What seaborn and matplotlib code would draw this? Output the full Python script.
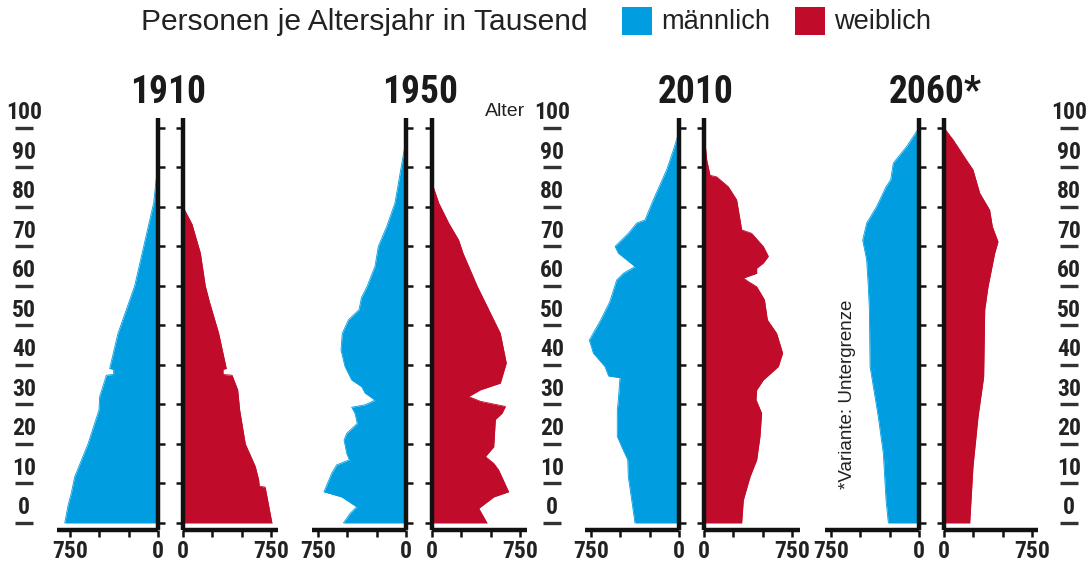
import matplotlib
matplotlib.use("Agg")
import matplotlib.pyplot as plt
from matplotlib.patches import Rectangle
from matplotlib import font_manager
import seaborn as sns
import pandas as pd

# ---------------- data (thousand persons per age year) ----------------
years = ["1910", "1950", "2010", "2060*"]

age_m_1910 = [0, 4.4, 7.6, 11.7, 20, 28.6, 32, 37.4, 37.6, 38.9, 39.1, 48, 54, 60, 70, 81, 88, 95]
val_m_1910 = [795, 767, 739, 710, 597, 503, 497, 440, 378, 378, 412, 341, 270, 199, 122, 37, 12, 0]
age_f_1910 = [0, 4.4, 9.1, 9.3, 10.9, 14.3, 20, 28.6, 33.7, 37.4, 37.6, 38.9, 39.1, 48, 56, 60, 68.3, 75.6, 80]
val_f_1910 = [758, 730, 700, 650, 645, 616, 531, 483, 466, 418, 341, 341, 369, 304, 225, 190, 148, 77, 0]

age_m_1950 = [0, 2.4, 4.1, 6.6, 7.9, 12.6, 14.7, 16.0, 17.6, 21, 22.7, 25.2, 27.8, 29.3, 29.9, 31.1,
              32.9, 34.5, 36.2, 39.6, 43.8, 48, 51.4, 54, 57, 60, 65, 70, 75, 81, 89.4, 97]
val_m_1950 = [534, 477, 420, 548, 699, 633, 591, 483, 505, 528, 505, 415, 435, 463, 349, 264,
              349, 378, 463, 520, 554, 543, 491, 400, 380, 330, 264, 236, 165, 94, 45, 0]
age_f_1950 = [0, 3.7, 6.6, 7.9, 13.4, 15.1, 16.8, 19.3, 26.2, 27.8, 29.5, 30.8, 32, 33.7, 35.4,
              40.5, 48, 54, 60, 68.3, 71.6, 75.9, 81, 86]
val_f_1950 = [469, 398, 526, 653, 568, 526, 455, 526, 540, 597, 625, 412, 312, 412, 582,
              633, 582, 483, 384, 264, 227, 142, 57, 0]

age_m_2010 = [0, 5.8, 11.7, 16, 19.3, 21.9, 28.6, 31.2, 36.8, 37.2, 39.6, 43, 46.3, 51.4, 56,
              61.5, 63.2, 64.9, 66.6, 68.3, 70, 73.3, 75.9, 76.7, 81.8, 89.4, 94.4, 99]
val_m_2010 = [375, 403, 432, 437, 488, 526, 526, 517, 503, 600, 631, 730, 764, 667, 590,
              531, 474, 375, 446, 517, 545, 432, 361, 290, 219, 105, 48, 0]
age_f_2010 = [0, 5.8, 11.7, 16, 21.9, 27.8, 31.2, 33.7, 36.2, 39.6, 43, 48, 51.4, 56.5, 59.8,
              61.1, 62.0, 63.2, 64.5, 65.8, 67.5, 70, 73.3, 74.2, 76.7, 81.8, 85.1, 87.6, 88, 91.9, 99]
val_f_2010 = [321, 335, 392, 449, 477, 491, 443, 449, 505, 633, 670, 619, 540, 515, 449,
              378, 335, 449, 449, 505, 548, 505, 406, 321, 307, 278, 207, 108, 51, 23, 0]

age_m_2060 = [0, 5.8, 17.6, 26.9, 39.6, 54, 59.8, 66.6, 71.6, 75.9, 80.1, 85.1, 86.9, 91.1, 95.3, 100]
val_m_2060 = [261, 281, 304, 347, 417, 423, 432, 446, 480, 446, 361, 281, 241, 219, 105, 0]
age_f_2060 = [0, 14.3, 26.9, 37, 54, 59.8, 68.3, 71.2, 75, 79.2, 83.5, 89.4, 91.9, 97, 100]
val_f_2060 = [219, 247, 290, 338, 347, 375, 432, 460, 412, 389, 304, 247, 190, 77, 0]

age_ticks = [0, 10, 20, 30, 40, 50, 60, 70, 80, 90, 100]
x_ticks = [0, 250, 500, 750]
x_ticklabels = ["0", "", "", "750"]

header = "Personen je Altersjahr in Tausend"
legend_labels = ["männlich", "weiblich"]
alter_label = "Alter"
note = "*Variante: Untergrenze"

male = {"1910": (age_m_1910, val_m_1910), "1950": (age_m_1950, val_m_1950),
        "2010": (age_m_2010, val_m_2010), "2060*": (age_m_2060, val_m_2060)}
female = {"1910": (age_f_1910, val_f_1910), "1950": (age_f_1950, val_f_1950),
          "2010": (age_f_2010, val_f_2010), "2060*": (age_f_2060, val_f_2060)}

# ---------------- style ----------------
sns.set_theme(style="white")
REG = ["Liberation Sans", "DejaVu Sans"]
plt.rcParams["font.family"] = REG

# pick a condensed bold face if one is installed
_fonts = font_manager.fontManager.ttflist
_names = {f.name for f in _fonts}
COND = None
COND_STRETCH = "normal"
SCALE = 1.0
for cand in ["Liberation Sans Narrow", "Roboto Condensed", "Open Sans Condensed",
             "Noto Sans Display", "Arial Narrow"]:
    if cand in _names:
        COND = [cand, "DejaVu Sans"]
        break
if COND is None:
    cond_faces = [f for f in _fonts if str(f.stretch) in ("condensed", "semi-condensed", "extra-condensed", "ultra-condensed")
                  or (isinstance(f.stretch, int) and f.stretch < 500)]
    bold_cond = [f for f in cond_faces if (f.weight in ("bold", 700) or (isinstance(f.weight, int) and f.weight >= 600))]
    pick = bold_cond[0] if bold_cond else (cond_faces[0] if cond_faces else None)
    if pick is not None:
        COND = [pick.name, "DejaVu Sans"]
        COND_STRETCH = pick.stretch
    else:
        COND = ["Liberation Sans", "DejaVu Sans"]
        SCALE = 0.84

BLUE = "#009ee0"
RED = "#c10b2b"
TXT = "#222222"

W, H = 1088, 567
fig = plt.figure(figsize=(W / 100, H / 100), dpi=100)

K = 88 / 750          # px per thousand
Y_TOP, Y_BOT = 118, 530
YLIM = (-1.77, 102.5)
ax_b = (H - Y_BOT) / H
ax_h = (Y_BOT - Y_TOP) / H

# layout: (male spine px, male xmax, female spine px, female xmax, title centre px)
layout = {"1910": (158, 860, 183, 810, 168),
          "1950": (406, 800, 432, 810, 420),
          "2010": (679, 800, 704, 820, 696),
          "2060*": (919, 800, 944, 800, 935)}


def cond_text(x, y, s, size, **kw):
    return fig.text(x, y, s, fontsize=size * SCALE, fontweight="bold", family=COND,
                    fontstretch=COND_STRETCH, **kw)


def style_axis(ax, side):
    for s in ["top", "left", "right", "bottom"]:
        ax.spines[s].set_visible(False)
    ax.spines[side].set_visible(True)
    ax.spines["bottom"].set_visible(True)
    for s in [side, "bottom"]:
        ax.spines[s].set_linewidth(3.2)
        ax.spines[s].set_color("#111111")
        ax.spines[s].set_capstyle("butt")
    ax.set_ylim(*YLIM)
    ax.set_yticks(age_ticks)
    ax.set_yticklabels([])
    if side == "right":
        ax.yaxis.tick_right()
    else:
        ax.yaxis.tick_left()
    ax.tick_params(axis="y", direction="out", length=5, width=1.8, color="#111111")
    ax.set_xticks(x_ticks)
    ax.set_xticklabels(x_ticklabels)
    ax.tick_params(axis="x", direction="out", length=5, width=1.8, color="#111111",
                   pad=2, labelsize=17 * SCALE, labelcolor=TXT)
    ax.xaxis.tick_bottom()
    for lbl in ax.get_xticklabels():
        lbl.set_fontfamily(COND)
        lbl.set_fontweight("bold")
        lbl.set_fontstretch(COND_STRETCH)
    ax.grid(False)
    ax.set_facecolor("none")
    ax.set_xlabel("")
    ax.set_ylabel("")


for yr in years:
    ms, mmax, fs, fmax, tc = layout[yr]
    # male
    axm = fig.add_axes([(ms - mmax * K) / W, ax_b, mmax * K / W, ax_h])
    a, v = male[yr]
    dm = pd.DataFrame({"age": a, "val": v})
    axm.fill_betweenx(dm["age"], 0, dm["val"], color=BLUE, lw=0)
    sns.lineplot(data=dm, x="val", y="age", orient="y", sort=False, ax=axm,
                 color=BLUE, lw=0.6, estimator=None)
    axm.set_xlim(mmax, 0)
    style_axis(axm, "right")
    # female
    axf = fig.add_axes([fs / W, ax_b, fmax * K / W, ax_h])
    a, v = female[yr]
    df = pd.DataFrame({"age": a, "val": v})
    axf.fill_betweenx(df["age"], 0, df["val"], color=RED, lw=0)
    sns.lineplot(data=df, x="val", y="age", orient="y", sort=False, ax=axf,
                 color=RED, lw=0.6, estimator=None)
    axf.set_xlim(0, fmax)
    style_axis(axf, "left")
    # title
    cond_text(tc / W, 1 - 93 / H, yr, 27, ha="center", va="center", color="#1a1a1a")

# age label columns
for cx in [24, 552, 1069]:
    axl = fig.add_axes([(cx - 20) / W, ax_b, 40 / W, ax_h])
    axl.set_xlim(0, 1)
    axl.set_ylim(*YLIM)
    axl.axis("off")
    for age in age_ticks:
        axl.text(0.5, age + 3.8, str(age), ha="center", va="center", fontsize=17 * SCALE,
                 fontweight="bold", family=COND, fontstretch=COND_STRETCH, color=TXT)
        axl.plot([0.27, 0.73], [age, age], color="#333333", lw=2.4, solid_capstyle="butt")

# "Alter"
fig.text(505 / W, 1 - 111 / H, alter_label, ha="center", va="center", fontsize=14, color=TXT)

# footnote
fig.text(848 / W, 1 - 394 / H, note, ha="center", va="center", rotation=90,
         fontsize=13.5, color=TXT)

# header + legend
fig.text(141 / W, 1 - 22 / H, header, ha="left", va="center", fontsize=21.6, color=TXT)
for (x0, col, lbl) in [(622, BLUE, legend_labels[0]), (795, RED, legend_labels[1])]:
    fig.add_artist(Rectangle((x0 / W, 1 - 35 / H), 30 / W, 28 / H, transform=fig.transFigure,
                             facecolor=col, edgecolor="none"))
    fig.text((x0 + 39) / W, 1 - 22 / H, lbl, ha="left", va="center", fontsize=19.6, color=TXT)

fig.savefig("out.png", dpi=100)
